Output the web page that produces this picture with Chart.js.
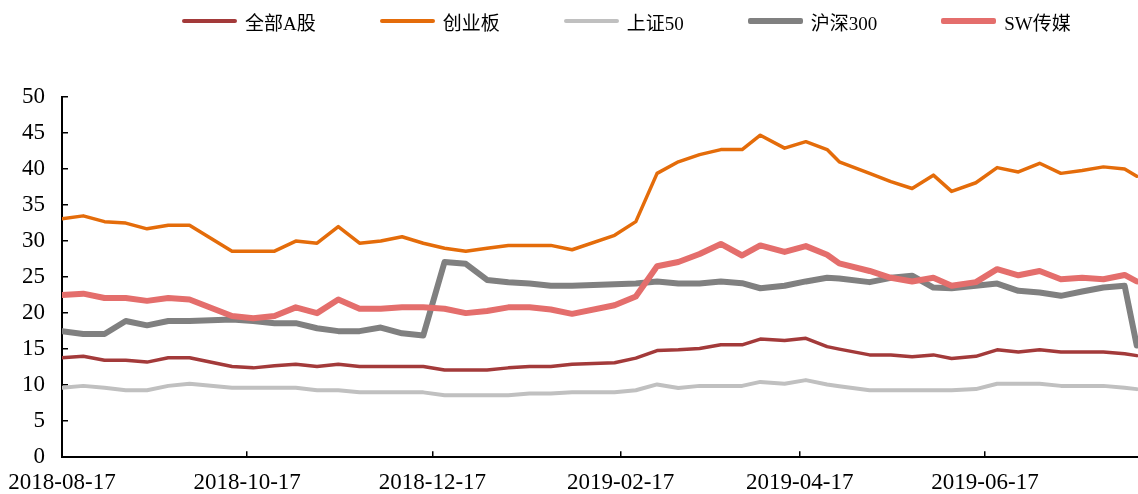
<!DOCTYPE html>
<html>
<head>
<meta charset="utf-8">
<script src="https://cdn.jsdelivr.net/npm/chart.js@4.4.1/dist/chart.umd.min.js"></script>
<style>
  body { margin: 0; background: #fff; }
  #wrap { position: relative; width: 1138px; height: 494px; }
  #legend {
    position: absolute; left: 182px; top: 8px; height: 26px;
    display: flex; align-items: center; gap: 64px;
    font-family: "Liberation Serif", "Noto Sans CJK SC", serif; font-size: 19px; color: #000;
  }
  .item { display: flex; align-items: center; gap: 8px; }
  .swatch { width: 55px; border-radius: 2px; }
</style>
</head>
<body>
<div id="wrap">
  <canvas id="peChart"></canvas>
  <div id="legend"></div>
</div>
<script>
// weekly dates (last trading day of each week)
const dates = [
  '2018-08-17','2018-08-24','2018-08-31','2018-09-07','2018-09-14','2018-09-21','2018-09-28',
  '2018-10-12','2018-10-19','2018-10-26','2018-11-02','2018-11-09','2018-11-16','2018-11-23',
  '2018-11-30','2018-12-07','2018-12-14','2018-12-21','2018-12-28','2019-01-04','2019-01-11',
  '2019-01-18','2019-01-25','2019-02-01','2019-02-15','2019-02-22','2019-03-01','2019-03-08',
  '2019-03-15','2019-03-22','2019-03-29','2019-04-04','2019-04-12','2019-04-19','2019-04-26',
  '2019-04-30','2019-05-10','2019-05-17','2019-05-24','2019-05-31','2019-06-06','2019-06-14',
  '2019-06-21','2019-06-28','2019-07-05','2019-07-12','2019-07-19','2019-07-26','2019-08-02',
  '2019-08-06'
];
const tickLabels = ['2018-08-17','2018-10-17','2018-12-17','2019-02-17','2019-04-17','2019-06-17'];

const seriesNames = ['全部A股', '创业板', '上证50', '沪深300', 'SW传媒'];

const allA = [13.8,14.0,13.45,13.45,13.2,13.8,13.8,12.6,12.4,12.7,12.9,12.6,12.9,12.6,12.6,12.6,12.6,
  12.1,12.1,12.1,12.4,12.6,12.6,12.9,13.1,13.75,14.8,14.9,15.1,15.6,15.6,16.4,16.2,16.5,15.35,15.0,
  14.2,14.2,13.95,14.2,13.7,14.0,14.9,14.6,14.9,14.6,14.6,14.6,14.35,14.1];
const chiNext = [33.1,33.5,32.7,32.5,31.7,32.2,32.2,28.6,28.6,28.6,30.0,29.7,32.0,29.7,30.0,30.6,29.7,
  29.0,28.6,29.0,29.4,29.4,29.4,28.8,30.8,32.7,39.4,41.0,42.0,42.7,42.7,44.7,42.9,43.8,42.7,41.0,
  39.4,38.25,37.3,39.15,36.9,38.1,40.2,39.6,40.8,39.4,39.8,40.3,40.0,39.0];
const sz50 = [9.65,9.9,9.65,9.3,9.3,9.9,10.2,9.65,9.65,9.65,9.65,9.3,9.3,9.0,9.0,9.0,9.0,
  8.6,8.6,8.6,8.6,8.85,8.85,9.0,9.0,9.3,10.1,9.6,9.9,9.9,9.9,10.45,10.2,10.7,10.1,9.85,
  9.3,9.3,9.3,9.3,9.3,9.45,10.2,10.2,10.2,9.9,9.9,9.9,9.65,9.45];
const hs300 = [17.5,17.1,17.1,18.9,18.3,18.9,18.9,19.1,18.9,18.6,18.6,17.9,17.5,17.5,18.0,17.2,16.9,
  27.1,26.85,24.6,24.3,24.1,23.8,23.8,24.0,24.1,24.4,24.1,24.1,24.4,24.15,23.45,23.8,24.4,24.9,24.8,
  24.3,24.9,25.2,23.55,23.45,23.8,24.1,23.1,22.85,22.4,23.0,23.55,23.8,15.5];
const swMedia = [22.5,22.7,22.1,22.1,21.7,22.1,21.9,19.6,19.3,19.6,20.8,20.0,21.9,20.6,20.6,20.8,20.8,
  20.6,20.0,20.3,20.8,20.8,20.5,19.9,21.1,22.3,26.5,27.1,28.2,29.6,28.0,29.4,28.5,29.3,28.1,26.9,
  25.85,24.9,24.4,24.9,23.8,24.3,26.1,25.25,25.85,24.7,24.9,24.7,25.3,24.4];

const colors = ['#A33A3A', '#E46C0A', '#C0C0C0', '#808080', '#E46E6C'];
const widths = [3.5, 3.5, 4, 6, 6];

const DAY = 86400000;
const t0 = Date.parse(dates[0]);
const dayOf = d => (Date.parse(d) - t0) / DAY;

const seriesValues = [allA, chiNext, sz50, hs300, swMedia];
const datasets = seriesValues.map((vals, i) => ({
  label: seriesNames[i],
  data: vals.map((v, j) => ({ x: dayOf(dates[j]), y: v })),
  borderColor: colors[i],
  backgroundColor: colors[i],
  borderWidth: widths[i],
  pointRadius: 0,
  tension: 0,
  borderJoinStyle: 'round',
  borderCapStyle: 'round',
  order: seriesValues.length - i   // later series drawn on top, like the original
}));

// legend (kept as html so the spacing matches)
const legend = document.getElementById('legend');
seriesNames.forEach((name, i) => {
  const item = document.createElement('div');
  item.className = 'item';
  const sw = document.createElement('span');
  sw.className = 'swatch';
  sw.style.background = colors[i];
  sw.style.height = widths[i] + 'px';
  const tx = document.createElement('span');
  tx.textContent = name;
  item.appendChild(sw);
  item.appendChild(tx);
  legend.appendChild(item);
});

const tickFont = { family: '"Liberation Serif", serif', size: 23 };

const ctx = document.getElementById('peChart').getContext('2d');
new Chart(ctx, {
  type: 'line',
  data: { datasets: datasets },
  options: {
    responsive: true,
    maintainAspectRatio: false,
    animation: false,
    layout: { padding: { top: 97, left: 0, right: 0, bottom: 0 } },
    plugins: { legend: { display: false }, tooltip: { enabled: false } },
    scales: {
      x: {
        type: 'linear',
        min: 0,
        max: dayOf(dates[dates.length - 1]) + 0.4,
        afterBuildTicks: axis => { axis.ticks = tickLabels.map(t => ({ value: dayOf(t) })); },
        afterFit: axis => { axis.height = 33; axis.paddingLeft = 0; axis.paddingRight = 0; },
        ticks: {
          autoSkip: false,
          maxRotation: 0,
          padding: 18,
          color: '#000',
          font: tickFont,
          callback: v => tickLabels.find(t => dayOf(t) === v) || ''
        },
        grid: { drawOnChartArea: false, drawTicks: true, tickLength: -6, color: '#000', lineWidth: 1.5 },
        border: { display: true, color: '#000', width: 2 }
      },
      y: {
        min: 0,
        max: 50,
        afterFit: axis => { axis.width = 62; },
        ticks: { stepSize: 5, padding: 23, color: '#000', font: tickFont },
        grid: { drawOnChartArea: false, drawTicks: true, tickLength: -6, color: '#000', lineWidth: 1.5 },
        border: { display: true, color: '#000', width: 2 }
      }
    }
  }
});
</script>
</body>
</html>
